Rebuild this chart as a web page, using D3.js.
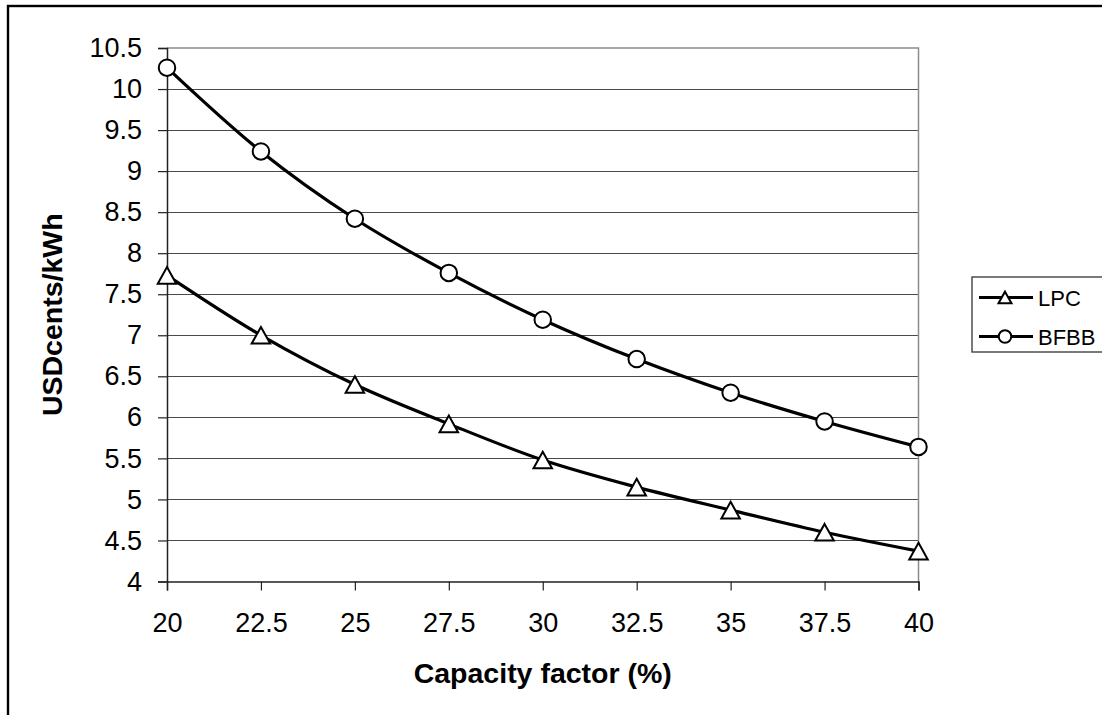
<!DOCTYPE html>
<html>
<head>
<meta charset="utf-8">
<script src="https://cdn.jsdelivr.net/npm/d3@7"></script>
<style>
  html, body { margin: 0; padding: 0; background: #fff; }
  svg { display: block; font-family: Arial, "Liberation Sans", sans-serif; }
</style>
</head>
<body>
<svg id="chart" width="1102" height="715"></svg>
<script>
// ---- data ----
const capacityFactor = [20, 22.5, 25, 27.5, 30, 32.5, 35, 37.5, 40];
const lpcValues  = [7.73, 7.00, 6.40, 5.92, 5.48, 5.15, 4.87, 4.60, 4.37];
const bfbbValues = [10.26, 9.24, 8.42, 7.76, 7.19, 6.71, 6.30, 5.95, 5.64];
const seriesNames = ["LPC", "BFBB"];
const xTickValues = [20, 22.5, 25, 27.5, 30, 32.5, 35, 37.5, 40];
const yTickValues = [4, 4.5, 5, 5.5, 6, 6.5, 7, 7.5, 8, 8.5, 9, 9.5, 10, 10.5];
const xTitle = "Capacity factor (%)";
const yTitle = "USDcents/kWh";

const svg = d3.select("#chart");

// outer chart frame
svg.append("rect")
  .attr("x", 8).attr("y", 6).attr("width", 1200).attr("height", 800)
  .attr("fill", "#fff").attr("stroke", "#000").attr("stroke-width", 2.4);

const plot = { left: 167, right: 918.5, top: 48, bottom: 581.5 };

const x = d3.scaleLinear().domain([20, 40]).range([plot.left, plot.right]);
const y = d3.scaleLinear().domain([4, 10.5]).range([plot.bottom, plot.top]);

// gridlines
svg.append("g")
  .selectAll("line")
  .data(yTickValues.filter(v => v > 4 && v < 10.5))
  .join("line")
  .attr("x1", plot.left).attr("x2", plot.right)
  .attr("y1", d => Math.round(y(d)) + 0.5).attr("y2", d => Math.round(y(d)) + 0.5)
  .attr("stroke", "#4a4a4a").attr("stroke-width", 1.2);

// plot-area border (top & right, gray)
svg.append("path")
  .attr("d", `M${plot.left},${plot.top}H${plot.right}V${plot.bottom}`)
  .attr("fill", "none").attr("stroke", "#8c8c8c").attr("stroke-width", 1.5);

// axes
const yAxis = d3.axisLeft(y).tickValues(yTickValues).tickSize(9).tickPadding(16)
  .tickFormat(d => d3.format("~g")(d));
const gy = svg.append("g").attr("transform", `translate(${plot.left},0)`).call(yAxis);
gy.select(".domain").attr("stroke", "#222").attr("stroke-width", 1.5);
gy.selectAll(".tick line").attr("stroke", "#222").attr("stroke-width", 1.2);
gy.selectAll(".tick text").attr("font-size", 27).attr("fill", "#000")
  .attr("font-family", "Arial, 'Liberation Sans', sans-serif");

const xAxis = d3.axisBottom(x).tickValues(xTickValues).tickSize(9).tickPadding(22)
  .tickFormat(d => d3.format("~g")(d));
const gx = svg.append("g").attr("transform", `translate(0,${plot.bottom})`).call(xAxis);
gx.select(".domain").attr("stroke", "#222").attr("stroke-width", 1.5);
gx.selectAll(".tick line").attr("stroke", "#222").attr("stroke-width", 1.2);
gx.selectAll(".tick text").attr("font-size", 27).attr("fill", "#000")
  .attr("font-family", "Arial, 'Liberation Sans', sans-serif");

// axis titles
svg.append("text")
  .attr("x", (plot.left + plot.right) / 2).attr("y", 683)
  .attr("text-anchor", "middle").attr("font-size", 28.5).attr("font-weight", "bold")
  .text(xTitle);
svg.append("text")
  .attr("transform", `translate(62,${(plot.top + plot.bottom) / 2}) rotate(-90)`)
  .attr("text-anchor", "middle").attr("font-size", 28.5).attr("font-weight", "bold")
  .text(yTitle);

// series
const series = [
  { name: seriesNames[0], values: lpcValues, marker: "triangle" },
  { name: seriesNames[1], values: bfbbValues, marker: "circle" }
];

const line = d3.line()
  .x((d, i) => x(capacityFactor[i]))
  .y(d => y(d))
  .curve(d3.curveCatmullRom.alpha(0.5));

const triPath = (s) => {
  const w = s, h = s * 0.9;
  return `M0,${-h / 2}L${w / 2},${h / 2}L${-w / 2},${h / 2}Z`;
};

function drawMarker(g, type, size) {
  if (type === "circle") {
    g.append("circle").attr("r", size / 2)
      .attr("fill", "#fff").attr("stroke", "#000").attr("stroke-width", 2);
  } else {
    g.append("path").attr("d", triPath(size))
      .attr("fill", "#fff").attr("stroke", "#000").attr("stroke-width", 2);
  }
}

series.forEach(s => {
  svg.append("path")
    .attr("d", line(s.values))
    .attr("fill", "none").attr("stroke", "#000").attr("stroke-width", 3.2)
    .attr("stroke-linejoin", "round");
  s.values.forEach((v, i) => {
    const g = svg.append("g").attr("transform", `translate(${x(capacityFactor[i])},${y(v)})`);
    drawMarker(g, s.marker, s.marker === "circle" ? 16.5 : 18.5);
  });
});

// legend
const legend = svg.append("g");
legend.append("rect")
  .attr("x", 972).attr("y", 277).attr("width", 200).attr("height", 75)
  .attr("fill", "#fff").attr("stroke", "#333").attr("stroke-width", 1.3);
const legendRows = [297.5, 336.5];
series.forEach((s, i) => {
  const yy = legendRows[i];
  legend.append("line")
    .attr("x1", 979).attr("x2", 1033).attr("y1", yy).attr("y2", yy)
    .attr("stroke", "#000").attr("stroke-width", 3);
  const g = legend.append("g").attr("transform", `translate(1005,${yy})`);
  drawMarker(g, s.marker, s.marker === "circle" ? 12.5 : 13);
  legend.append("text")
    .attr("x", 1038).attr("y", yy + 8)
    .attr("font-size", 22).text(s.name);
});
</script>
</body>
</html>
